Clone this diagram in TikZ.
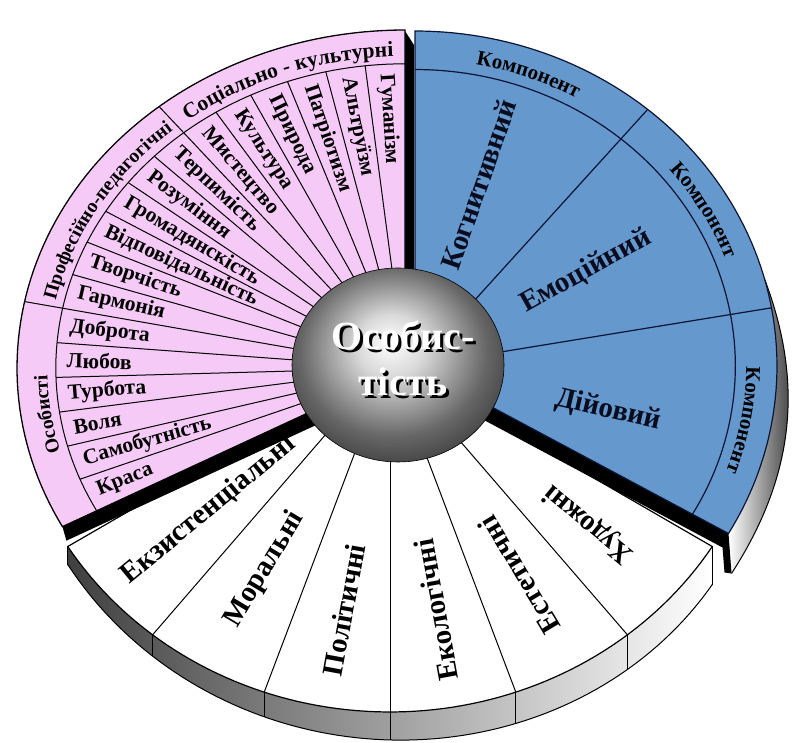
\documentclass[tikz,border=0pt]{standalone}
\usepackage{fontspec}
\setmainfont{Liberation Serif}
\usetikzlibrary{decorations.text}
\definecolor{pinkfill}{RGB}{246,202,246}
\definecolor{bluefill}{RGB}{101,152,205}
\definecolor{navy}{RGB}{10,20,55}
\definecolor{blueink}{RGB}{8,12,30}
\pgfdeclareradialshading{spherefill}{\pgfpoint{-2bp}{6bp}}{color(0bp)=(white); color(8bp)=(white!85!black); color(22bp)=(black!60); color(36bp)=(black!88); color(50bp)=(black)}
\newcommand\catfont{\bfseries\fontsize{21.5}{21.5}\selectfont}
\newcommand\catfontb{\bfseries\fontsize{19.5}{19.5}\selectfont}
\newcommand\compfont{\bfseries\fontsize{21}{21}\selectfont}
\def\pcx{405}\def\pcy{375}\def\prx{388}\def\pry{338}
\def\bcx{415}\def\bcy{377}\def\brx{362}\def\bry{335}
\def\wcx{390}\def\wcy{383}\def\wrx{380}\def\wry{352}
\begin{document}
\begin{tikzpicture}[x=1pt,y=1pt,
  itemlbl/.style={font=\bfseries\fontsize{21.5}{21.5}\selectfont, inner sep=1pt},
  bluelbl/.style={font=\bfseries\fontsize{29}{29}\selectfont, text=blueink, inner sep=0pt},
  whitelbl/.style={font=\bfseries\fontsize{29}{29}\selectfont, inner sep=0pt},
  corelbl/.style={font=\bfseries\fontsize{40}{46}\selectfont, align=center},
  pinkline/.style={draw=black, line width=1pt},
  blueline/.style={draw=navy, line width=1.2pt}]
\useasboundingbox (0,0) rectangle (800,743);

% ---------- white sector: side face ----------
\shade[left color=black!75, right color=white]
  plot[domain=212:328, samples=80] ({\wcx+\wrx*cos(\x)},{\wcy+\wry*sin(\x)})
  -- plot[domain=328:212, samples=80] ({\wcx+\wrx*cos(\x)},{\wcy+\wry*sin(\x)-(18+20*(\x-212)/116)}) -- cycle;
\draw[line width=1pt] plot[domain=212:328, samples=80] ({\wcx+\wrx*cos(\x)},{\wcy+\wry*sin(\x)-(18+20*(\x-212)/116)});
\foreach \i in {0,...,6} {
  \pgfmathsetmacro\t{212+116/6*\i}
  \pgfmathsetmacro\d{18+20*\i/6}
  \draw[line width=0.9pt] ({\wcx+\wrx*cos(\t)},{\wcy+\wry*sin(\t)}) -- ++(0,-\d);
}
% ---------- white sector: top ----------
\filldraw[fill=white, draw=black, line width=1.2pt] (\wcx,\wcy)
  -- plot[domain=212:328, samples=80] ({\wcx+\wrx*cos(\x)},{\wcy+\wry*sin(\x)}) -- cycle;
\foreach \i in {1,...,5} {
  \pgfmathsetmacro\t{212+116/6*\i}
  \draw[line width=1pt] (\wcx,\wcy) -- ({\wcx+\wrx*cos(\t)},{\wcy+\wry*sin(\t)});
}

% ---------- pink sector: black side faces ----------
\fill[black] (\pcx,\pcy) -- ({\pcx+\prx*cos(208)},{\pcy+\pry*sin(208)})
  -- ++(4,-14) -- (\pcx+4,\pcy-14) -- cycle;
\fill[black] (\pcx,\pcy) -- (\pcx,712) -- (414,698) -- (414,\pcy) -- cycle;
% ---------- pink sector ----------
\filldraw[fill=pinkfill, draw=black, line width=1.3pt] (\pcx,\pcy)
  -- plot[domain=90:208, samples=80] ({\pcx+\prx*cos(\x)},{\pcy+\pry*sin(\x)}) -- cycle;
\draw[pinkline] plot[domain=90:208, samples=80] ({\pcx+0.9*\prx*cos(\x)},{\pcy+0.9*\pry*sin(\x)});
\foreach \i in {1,...,17} {
  \pgfmathsetmacro\t{90+118/18*\i}
  \pgfmathsetmacro\k{ifthenelse(or(\i==6,\i==12),1,0.9)}
  \draw[pinkline] (\pcx,\pcy) -- ({\pcx+\k*\prx*cos(\t)},{\pcy+\k*\pry*sin(\t)});
}

% ---------- blue sector: side faces ----------
\shade[left color=white, right color=black!70]
  plot[domain=15:-30, samples=60] ({\bcx+\brx*cos(\x)},{\bcy+\bry*sin(\x)})
  -- plot[domain=-30:15, samples=60] ({\bcx+\brx*cos(\x)+11*sin(180*(15-\x)/45)+3*(15-\x)/45},{\bcy+\bry*sin(\x)-40*(15-\x)/45}) -- cycle;
\draw[line width=1pt] plot[domain=-30:15, samples=60] ({\bcx+\brx*cos(\x)+11*sin(180*(15-\x)/45)+3*(15-\x)/45},{\bcy+\bry*sin(\x)-40*(15-\x)/45});
\fill[black] (\bcx,\bcy) -- ({\bcx+\brx*cos(-30)},{\bcy+\bry*sin(-30)})
  -- ++(3,-40) -- ++(-7,1) -- ({\bcx+\brx*cos(-30)-6},{\bcy+\bry*sin(-30)-14}) -- (\bcx-6,\bcy-14) -- cycle;
% ---------- blue sector ----------
\filldraw[fill=bluefill, blueline] (\bcx,\bcy)
  -- plot[domain=90:-30, samples=80] ({\bcx+\brx*cos(\x)},{\bcy+\bry*sin(\x)}) -- cycle;
\draw[blueline] plot[domain=90:-30, samples=80] ({\bcx+0.885*\brx*cos(\x)},{\bcy+0.885*\bry*sin(\x)});
\foreach \t in {50,10} {
  \draw[blueline] (\bcx,\bcy) -- ({\bcx+\brx*cos(\t)},{\bcy+\bry*sin(\t)});
}

% ---------- sphere ----------
\shade[shading=spherefill] (398,378) ellipse[x radius=106, y radius=97];
\draw[line width=0.6pt] (398,378) ellipse[x radius=106, y radius=97];

% ---------- pink item labels ----------
\foreach \lab [count=\n from 0] in {Гуманізм, Альтруїзм, Патріотизм, Природа, Культура, Мистецтво, Терпимість, Розуміння, Громадянскість, Відповідальність, Творчість, Гармонія, Доброта, Любов, Турбота, Воля, Самобутність, Краса} {
  \pgfmathsetmacro\t{90+118/18*(\n+0.5)}
  \pgfmathsetmacro\ang{atan2(\pry*sin(\t),\prx*cos(\t))-180}
  \node[itemlbl, rotate=\ang, anchor=west] (p\n) at ({\pcx+0.875*\prx*cos(\t)},{\pcy+0.875*\pry*sin(\t)}) {\lab};
}
% ---------- pink category labels ----------
\path[decorate, decoration={text along path, text align=center, text={|\catfont|Соціально - культурні}}]
  ({\pcx+0.922*\prx*cos(129.33)},{\pcy+0.922*\pry*sin(129.33)}) arc[start angle=129.33, end angle=90, x radius={0.922*\prx}, y radius={0.922*\pry}];
\path[decorate, decoration={text along path, text align=center, text={|\catfontb|Професійно-педагогічні}}]
  ({\pcx+0.922*\prx*cos(168.67)},{\pcy+0.922*\pry*sin(168.67)}) arc[start angle=168.67, end angle=129.33, x radius={0.922*\prx}, y radius={0.922*\pry}];
\path[decorate, decoration={text along path, text align=center, text={|\catfontb|Особисті}}]
  ({\pcx+0.922*\prx*cos(208)},{\pcy+0.922*\pry*sin(208)}) arc[start angle=208, end angle=168.67, x radius={0.922*\prx}, y radius={0.922*\pry}];

% ---------- blue labels ----------
\foreach \lab/\t/\k [count=\n] in {Когнитивний/72/0.57, Емоційний/31/0.55, Дійовий/-14/0.55} {
  \pgfmathsetmacro\ang{atan2(\bry*sin(\t),\brx*cos(\t))}
  \node[bluelbl, rotate=\ang] (b\n) at ({\bcx+\k*\brx*cos(\t)},{\bcy+\k*\bry*sin(\t)}) {\lab};
}
\foreach \m in {70,30,-10} {
  \path[decorate, decoration={text along path, text align=center, text={|\compfont|Компонент}}]
    ({\bcx+0.915*\brx*cos(\m+20)},{\bcy+0.915*\bry*sin(\m+20)}) arc[start angle=\m+20, end angle=\m-20, x radius={0.915*\brx}, y radius={0.915*\bry}];
}

% ---------- white labels ----------
\foreach \lab/\k [count=\n from 0] in {Екзистенціальні/0.64, Моральні/0.68, Політичні/0.72, Екологічні/0.72, Естетичні/0.70, Художні/0.70} {
  \pgfmathsetmacro\t{212+116/6*(\n+0.5)}
  \pgfmathsetmacro\ang{atan2(\wry*sin(\t),\wrx*cos(\t))-180}
  \node[whitelbl, rotate=\ang] (w\n) at ({\wcx+\k*\wrx*cos(\t)},{\wcy+\k*\wry*sin(\t)}) {\lab};
}

% ---------- centre text ----------
\node[corelbl, text=black] (coreshadow) at (406,382) {Особис-\\тість};
\node[corelbl, text=white] (core) at (403,385) {Особис-\\тість};
\end{tikzpicture}
\end{document}
